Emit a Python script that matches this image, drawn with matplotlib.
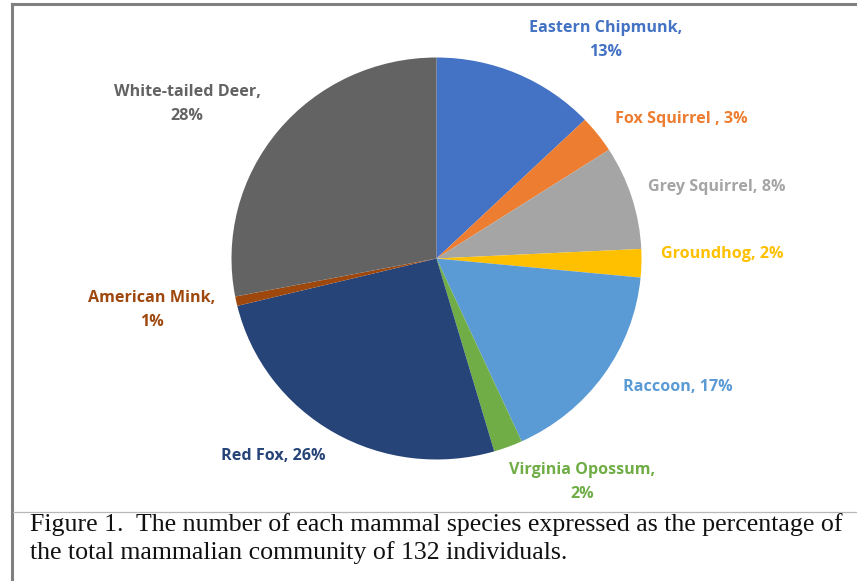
import matplotlib
matplotlib.use("Agg")
import matplotlib.pyplot as plt
from matplotlib.lines import Line2D

# ---- data ----
species = ["Eastern Chipmunk", "Fox Squirrel ", "Grey Squirrel", "Groundhog", "Raccoon",
           "Virginia Opossum", "Red Fox", "American Mink", "White-tailed Deer"]
counts = [17, 4, 11, 3, 22, 3, 34, 1, 37]
total = 132
caption = ("Figure 1.  The number of each mammal species expressed as the percentage of\n"
           "the total mammalian community of 132 individuals.")

# ---- styles ----
colors = ["#4472C4", "#ED7D31", "#A5A5A5", "#FFC000", "#5B9BD5",
          "#70AD47", "#264478", "#9E480E", "#636363"]
# label layout: (x_px, y_px, two_line)
label_layout = [(606, 40, True), (681, 119, False), (717, 187, False), (722, 254, False),
                (678, 387, False), (582, 482, True), (273, 456, False), (152, 310, True),
                (187, 104, True)]

W, H = 857, 581
fig = plt.figure(figsize=(W / 100, H / 100), dpi=100)
fig.patch.set_facecolor("white")

cx, cy, rx, ry = 436.5, 258.5, 205, 201
ax = fig.add_axes([(cx - rx) / W, (H - cy - ry) / H, 2 * rx / W, 2 * ry / H])
ax.pie(counts, colors=colors, startangle=90, counterclock=False, radius=1,
       wedgeprops=dict(linewidth=0))
ax.set_xlim(-1, 1)
ax.set_ylim(-1, 1)
ax.set_aspect("auto")
ax.axis("off")

for name, n, col, (x, y, two) in zip(species, counts, colors, label_layout):
    pct = f"{round(100 * n / total)}%"
    txt = f"{name},\n{pct}" if two else f"{name}, {pct}"
    fig.text(x / W, 1 - y / H, txt, ha="center", va="center", color=col,
             fontsize=11.6, fontweight="bold", family="Open Sans", linespacing=1.6)

# frame lines
fig.add_artist(Line2D([12 / W, 1], [1 - 3.5 / H, 1 - 3.5 / H], color="#808080", lw=2.2,
                      transform=fig.transFigure))
fig.add_artist(Line2D([12 / W, 12 / W], [0, 1 - 3.5 / H], color="#808080", lw=2.2,
                      transform=fig.transFigure))
fig.add_artist(Line2D([13 / W, 1], [1 - 512 / H, 1 - 512 / H], color="#B8B8B8", lw=0.9,
                      transform=fig.transFigure))

fig.text(30 / W, 1 - 538.5 / H, caption, ha="left", va="center", color="#111111",
         fontsize=18.6, family="Liberation Serif", linespacing=1.32)

fig.savefig("out.png", dpi=100)
